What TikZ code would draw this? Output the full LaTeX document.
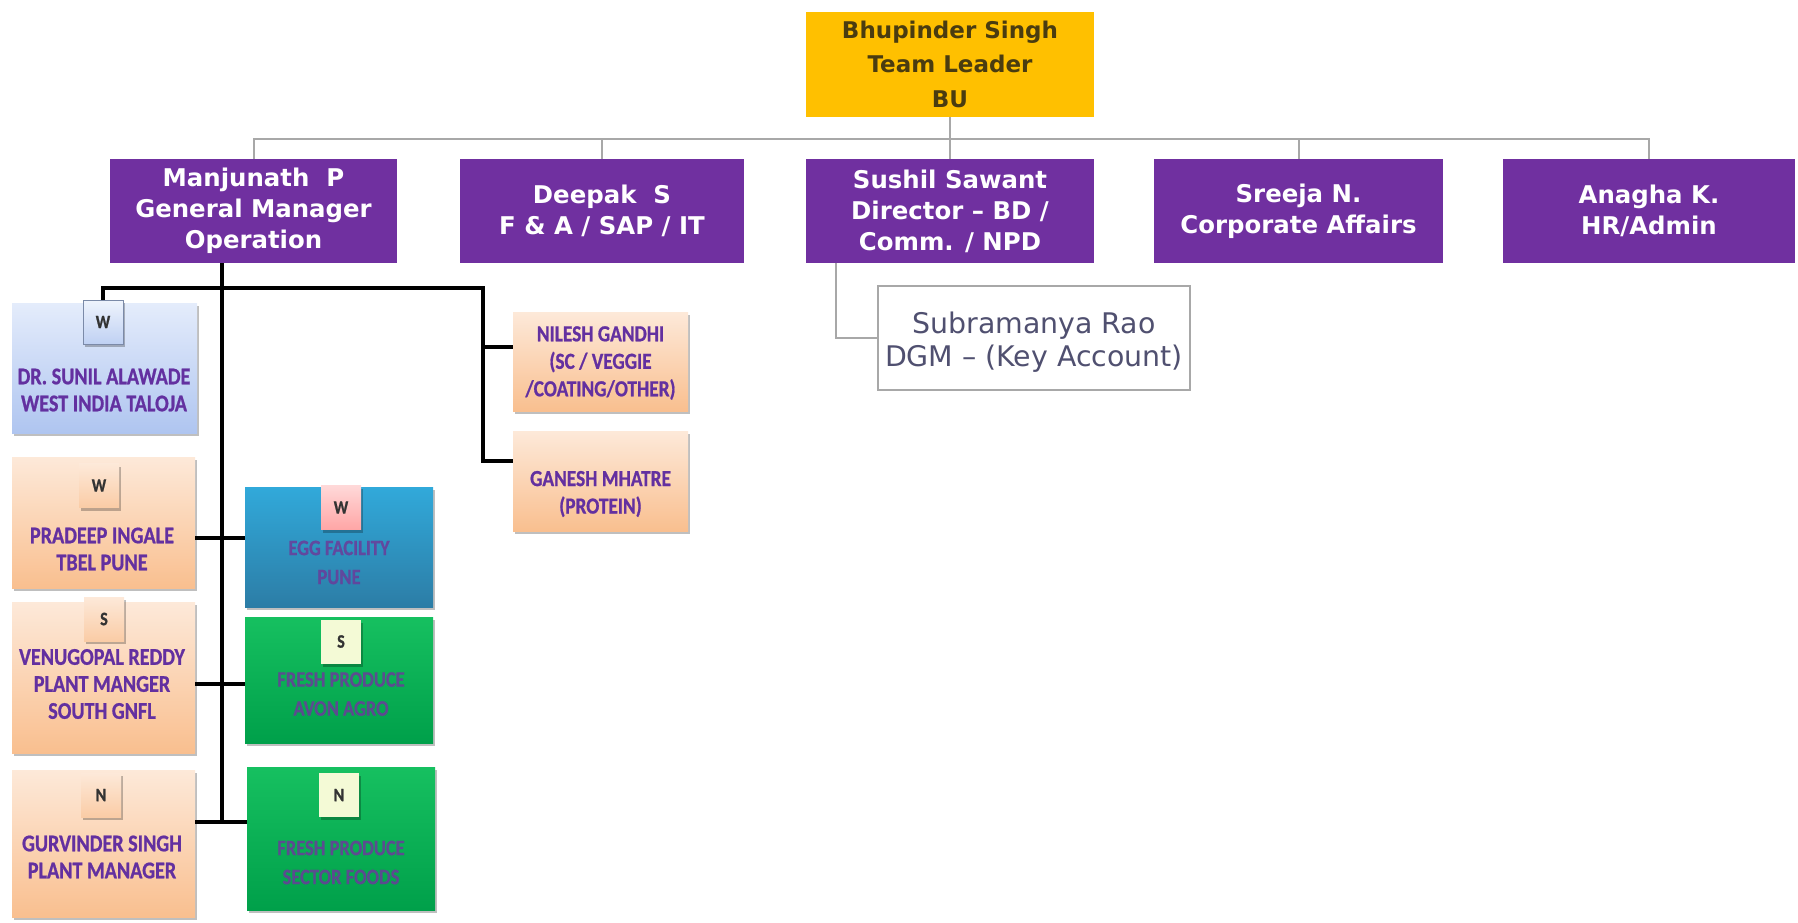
\documentclass[tikz,border=0pt]{standalone}
\usepackage{fontspec}
\setmainfont{DejaVu Sans}
\newfontfamily\cond[FakeStretch=0.84,FakeBold=0.8]{Carlito}
\usetikzlibrary{shadows}
\definecolor{gold}{HTML}{FFC000}
\definecolor{purp}{HTML}{7030A0}
\definecolor{goldtext}{HTML}{4A3C10}
\definecolor{slate}{HTML}{505070}
\definecolor{ltxt}{HTML}{6330A0}
\definecolor{gtxt}{HTML}{6A3D9A}
\definecolor{peachT}{HTML}{FDE9D9}
\definecolor{peachB}{HTML}{F9BF8F}
\definecolor{blueT}{HTML}{E4ECFB}
\definecolor{blueB}{HTML}{AFC5F0}
\definecolor{eggT}{HTML}{31A9DA}
\definecolor{eggB}{HTML}{2C7DA6}
\definecolor{grnT}{HTML}{16C060}
\definecolor{grnB}{HTML}{00A04A}
\definecolor{glin}{HTML}{A8A8A8}
\definecolor{pale}{HTML}{F4FAD6}
\begin{document}
\begin{tikzpicture}[x=0.5pt,y=-0.5pt,
  wh/.style 2 args={minimum width=#1*0.5pt, minimum height=#2*0.5pt, inner sep=0pt},
  topbox/.style={fill=gold, text=goldtext, font=\bfseries\fontsize{11.5}{17.25}\selectfont, align=center},
  purpbox/.style={fill=purp, text=white, font=\bfseries\fontsize{12.2}{15.5}\selectfont, align=center},
  subbox/.style={fill=white, draw=glin, line width=1pt},
  subtext/.style={text=slate, font=\fontsize{14.2}{16.5}\selectfont, align=center, inner sep=0pt},
  shad/.style={drop shadow={shadow xshift=1pt, shadow yshift=-1.5pt, opacity=0.25, fill=black}},
  peach/.style={top color=peachT, bottom color=peachB, shad},
  lblue/.style={top color=blueT, bottom color=blueB, shad},
  egg/.style={top color=eggT, bottom color=eggB, shad},
  grn/.style={top color=grnT, bottom color=grnB, shad},
  ltext/.style={text=ltxt, font=\cond\bfseries\fontsize{12}{13.5}\selectfont, align=center, inner sep=0pt},
  gtext/.style={text=gtxt, opacity=0.85, font=\cond\bfseries\fontsize{11}{14.5}\selectfont, align=center, inner sep=0pt},
  badge/.style={wh={40}{44}, font=\cond\bfseries\fontsize{9.5}{10}\selectfont, text=black!80, shad},
  gline/.style={draw=glin, line width=1pt},
  bline/.style={draw=black, line width=2pt}]
\useasboundingbox (0,0) rectangle (1798,922);

% top and second row
\node[topbox, wh={288}{105}] (top) at (950,64) {Bhupinder Singh\\Team Leader\\BU};
\node[purpbox, wh={287}{104}] (manj) at (253.5,211) {Manjunath\ \ P\\General Manager\\Operation};
\node[purpbox, wh={284}{104}] (deep) at (602,211) {Deepak\ \ S\\F \& A / SAP / IT};
\node[purpbox, wh={288}{104}] (sush) at (950,211) {Sushil Sawant\\Director -- BD /\\Comm. / NPD};
\node[purpbox, wh={289}{104}] (sree) at (1298.5,211) {Sreeja N.\\Corporate Affairs};
\node[purpbox, wh={292}{104}] (anag) at (1649,211) {Anagha K.\\HR/Admin};
\node[subbox, wh={312}{104}] (subr) at (1034,338) {};
\node[subtext] (subrT) at (1034,342) {Subramanya Rao\\DGM -- (Key Account)};

\coordinate (bus) at (950,139);
\draw[gline] (top.south) -- (sush.north);
\draw[gline] (manj.north) |- (anag.north |- bus) -- (anag.north);
\draw[gline] (deep.north) -- (deep.north |- bus);
\draw[gline] (sree.north) -- (sree.north |- bus);
\coordinate (sb) at (836,263);
\draw[gline] (sb) |- (subr.west);

% left column boxes
\node[lblue, wh={185}{130}] (sun) at (104.5,368) {};
\node[peach, wh={183}{131}] (prad) at (103.5,522.5) {};
\node[peach, wh={183}{151}] (venu) at (103.5,677.5) {};
\node[peach, wh={183}{147}] (gurv) at (103.5,843.5) {};
\node[egg, wh={188}{120}] (eggf) at (339,547) {};
\node[grn, wh={188}{126}] (avon) at (339,680) {};
\node[grn, wh={188}{143}] (sect) at (341,838.5) {};
\node[peach, wh={175}{99}] (nile) at (600.5,361.5) {};
\node[peach, wh={175}{100}] (gane) at (600.5,481) {};

% badges
\node[badge, top color=blueT!60!white, bottom color=blueB!80!white, draw=blueB!70!black, line width=0.4pt] (sunB) at (103,322) {W};
\node[badge, top color=peachT, bottom color=peachB!80!white] (pradB) at (99,485.5) {W};
\node[badge, top color=peachT, bottom color=peachB!80!white] (venuB) at (104,619) {S};
\node[badge, top color=peachT, bottom color=peachB!80!white] (gurvB) at (101,795) {N};
\node[badge, top color=red!15, bottom color=red!35] (eggB) at (341,507.5) {W};
\node[badge, fill=pale] (avonB) at (341,641.5) {S};
\node[badge, fill=pale] (sectB) at (339,795) {N};

% texts
\node[ltext] (sunT) at (104,390) {DR. SUNIL ALAWADE\\WEST INDIA TALOJA};
\node[ltext] (pradT) at (102,549) {PRADEEP INGALE\\TBEL PUNE};
\node[ltext] (venuT) at (102,684) {VENUGOPAL REDDY\\PLANT MANGER\\SOUTH GNFL};
\node[ltext] (gurvT) at (102,857) {GURVINDER SINGH\\PLANT MANAGER};
\node[gtext] (eggT) at (339,562.5) {EGG FACILITY\\PUNE};
\node[gtext] (avonT) at (341,694) {FRESH PRODUCE\\AVON AGRO};
\node[gtext] (sectT) at (341,862.5) {FRESH PRODUCE\\SECTOR FOODS};
\node[ltext, font=\cond\bfseries\fontsize{11.5}{13.75}\selectfont] (nileT) at (600.5,363) {NILESH GANDHI\\(SC / VEGGIE\\/COATING/OTHER)};
\node[ltext, font=\cond\bfseries\fontsize{11.5}{13.75}\selectfont] (ganeT) at (600.5,494) {GANESH MHATRE\\(PROTEIN)};

% black connectors
\coordinate (mb) at (222,263);
\coordinate (mend) at (222,822);
\coordinate (hr) at (483,288);
\coordinate (n1) at (483,347);
\coordinate (n2) at (483,461);
\coordinate (t1) at (222,538);
\coordinate (t2) at (222,684);
\draw[bline] (mb) -- (mend);
\draw[bline] (sunB.north) |- (hr) -- (n2) -- (n2 -| gane.west);
\draw[bline] (n1) -- (n1 -| nile.west);
\draw[bline] (t1 -| prad.east) -- (t1 -| eggf.west);
\draw[bline] (t2 -| venu.east) -- (t2 -| avon.west);
\draw[bline] (mend -| gurv.east) -- (mend -| sect.west);
\end{tikzpicture}
\end{document}
